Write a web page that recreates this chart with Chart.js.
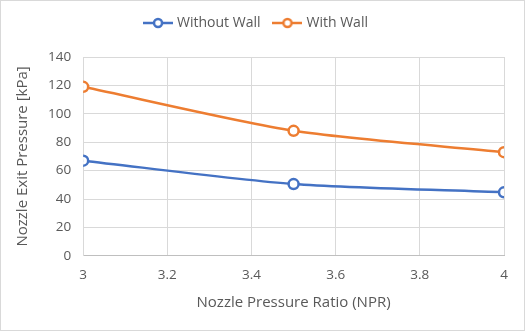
<!DOCTYPE html>
<html>
<head>
<meta charset="utf-8">
<script src="https://cdn.jsdelivr.net/npm/chart.js@4"></script>
<style>
  html, body { margin: 0; padding: 0; background: #fff; }
  #wrap { width: 523px; height: 329px; border: 1px solid #d9d9d9; position: relative; }
</style>
</head>
<body>
<div id="wrap"><canvas id="chart" width="523" height="329"></canvas></div>
<script>
const npr = [3, 3.5, 4];
const withoutWall = [67, 50.5, 44.7];
const withWall = [119, 88, 73];
const xTicks = [3, 3.2, 3.4, 3.6, 3.8, 4];

// legend marker: short line with an open circle in the middle
function lineMarker(color) {
  const c = document.createElement("canvas");
  c.width = 30;
  c.height = 12;
  const g = c.getContext("2d");
  g.strokeStyle = color;
  g.lineWidth = 2.5;
  g.beginPath();
  g.moveTo(0, 6);
  g.lineTo(30, 6);
  g.stroke();
  g.fillStyle = "#fff";
  g.beginPath();
  g.arc(15, 6, 4, 0, Math.PI * 2);
  g.fill();
  g.stroke();
  return c;
}

// extra room under the legend
const legendGap = {
  id: "legendGap",
  beforeInit(chart) {
    const fit = chart.legend.fit;
    chart.legend.fit = function () {
      fit.bind(chart.legend)();
      this.height += 17;
    };
  },
};

const ctx = document.getElementById("chart").getContext("2d");
Chart.defaults.font.family = "'Open Sans', 'Liberation Sans', sans-serif";
Chart.defaults.color = "#595959";

new Chart(ctx, {
  type: "line",
  data: {
    datasets: [
      {
        label: "Without Wall",
        data: npr.map((x, i) => ({ x: x, y: withoutWall[i] })),
        borderColor: "#4472C4",
        backgroundColor: "#ffffff",
        borderWidth: 2.5,
        pointRadius: 5,
        pointBorderWidth: 2.5,
        pointBackgroundColor: "#ffffff",
        tension: 0.25,
      },
      {
        label: "With Wall",
        data: npr.map((x, i) => ({ x: x, y: withWall[i] })),
        borderColor: "#ED7D31",
        backgroundColor: "#ffffff",
        borderWidth: 2.5,
        pointRadius: 5,
        pointBorderWidth: 2.5,
        pointBackgroundColor: "#ffffff",
        tension: 0.25,
      },
    ],
  },
  options: {
    responsive: false,
    animation: false,
    layout: { padding: { left: 9, right: 20, top: 0, bottom: 14 } },
    plugins: {
      legend: {
        position: "top",
        labels: {
          usePointStyle: true,
          pointStyleWidth: 24,
          padding: 15,
          font: { size: 14 },
          color: "#595959",
          generateLabels: (chart) =>
            chart.data.datasets.map((ds, i) => ({
              text: ds.label,
              pointStyle: lineMarker(ds.borderColor),
              fontColor: "#595959",
              strokeStyle: ds.borderColor,
              fillStyle: "#fff",
              lineWidth: 0,
              hidden: false,
              datasetIndex: i,
            })),
        },
      },
      tooltip: { enabled: false },
    },
    scales: {
      x: {
        type: "linear",
        min: 3,
        max: 4,
        afterBuildTicks: (axis) => { axis.ticks = xTicks.map((v) => ({ value: v })); },
        ticks: { font: { size: 13.5 }, padding: 11, callback: (v) => String(+v.toFixed(1)) },
        grid: { color: "#d9d9d9", drawTicks: false },
        border: { color: "#bfbfbf" },
        title: { display: true, text: "Nozzle Pressure Ratio (NPR)", font: { size: 15 }, padding: { top: 0 } },
      },
      y: {
        min: 0,
        max: 140,
        ticks: { stepSize: 20, font: { size: 13.5 }, padding: 12 },
        grid: { color: "#d9d9d9", drawTicks: false },
        border: { color: "#d9d9d9" },
        title: { display: true, text: "Nozzle Exit Pressure [kPa]", font: { size: 15 } },
      },
    },
  },
  plugins: [legendGap],
});
</script>
</body>
</html>
